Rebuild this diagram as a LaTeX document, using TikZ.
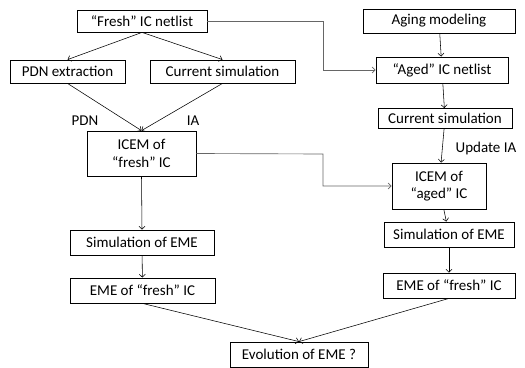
\documentclass[tikz,border=0pt]{standalone}
\usepackage{fontspec}
\setmainfont{Carlito}
\usetikzlibrary{arrows.meta}

\begin{document}
\begin{tikzpicture}[x=1pt,y=-1pt,
    box/.style={draw,line width=0.8pt,inner sep=1pt,align=center,
        font=\fontsize{15}{17.5}\selectfont},
    lbl/.style={font=\fontsize{15}{17.5}\selectfont},
    link/.style={line width=0.55pt,-{Straight Barb[length=3pt,width=6pt]}},
    elbow/.style={link,draw=black!60,line width=0.65pt}]
                \useasboundingbox (0,0) rectangle (525,367);

                \node[box,minimum width=130,minimum height=22] (fresh) at (142,21) {``Fresh'' IC netlist};
                \node[box,minimum width=115,minimum height=23] (pdn) at (67.5,71.5) {PDN extraction};
                \node[box,minimum width=145,minimum height=23] (cursim) at (222.5,71.5) {Current simulation};
                \node[box,minimum width=109,minimum height=45] (icemf) at (141.5,153.5) {ICEM of\\``fresh'' IC};
                \node[box,minimum width=144,minimum height=25] (simf) at (142,242.5) {Simulation of EME};
                \node[box,minimum width=145,minimum height=25] (emef) at (142.5,290.5) {EME of ``fresh'' IC};

                \node[box,minimum width=152,minimum height=24] (aging) at (439,21) {Aging modeling};
                \node[box,minimum width=132,minimum height=26] (aged) at (442,70) {``Aged'' IC netlist};
                \node[box,minimum width=134,minimum height=20] (cursima) at (445,118.5) {Current simulation};
                \node[box,minimum width=94,minimum height=46] (icema) at (439,186) {ICEM of\\``aged'' IC};
                \node[box,minimum width=130,minimum height=25] (sima) at (449,234.5) {Simulation of EME};
                \node[box,minimum width=132,minimum height=25] (emea) at (449,285.5) {EME of ``fresh'' IC};

                \node[box,minimum width=138,minimum height=25] (evol) at (299,354.5) {Evolution of EME ?};

                \node[lbl] (lpdn) at (85,121) {PDN};
                \node[lbl] (lia) at (193,121) {IA};
                \node[lbl] (lupd) at (486,148) {Update IA};

                \coordinate (kup) at (323,21);
                \coordinate (kdown) at (323,154);

                \draw[link] (fresh.south) -- (pdn.north);
                \draw[link] (fresh.south) -- (cursim.north);
                \draw[link] (pdn.south) -- (icemf.north);
                \draw[link] (cursim.south) -- (icemf.north);
                \draw[link] (icemf.south) -- (simf.north);
                \draw[link] (simf) -- (emef);
                \draw[link] (emef.south) -- (evol.north);

                \draw[link] (aging) -- (aged);
                \draw[link] (aged) -- (cursima);
                \draw[link] (cursima) -- (icema);
                \draw[link] (icema) -- (sima);
                \draw[link] (sima) -- (emea);
                \draw[link] (emea.south) -- (evol.north);

                \draw[elbow] (fresh.east) -- (kup) |- (aged.west);
                \draw[elbow] (icemf.east) -- (kdown) |- (icema.west);
            \end{tikzpicture}
\end{document}
